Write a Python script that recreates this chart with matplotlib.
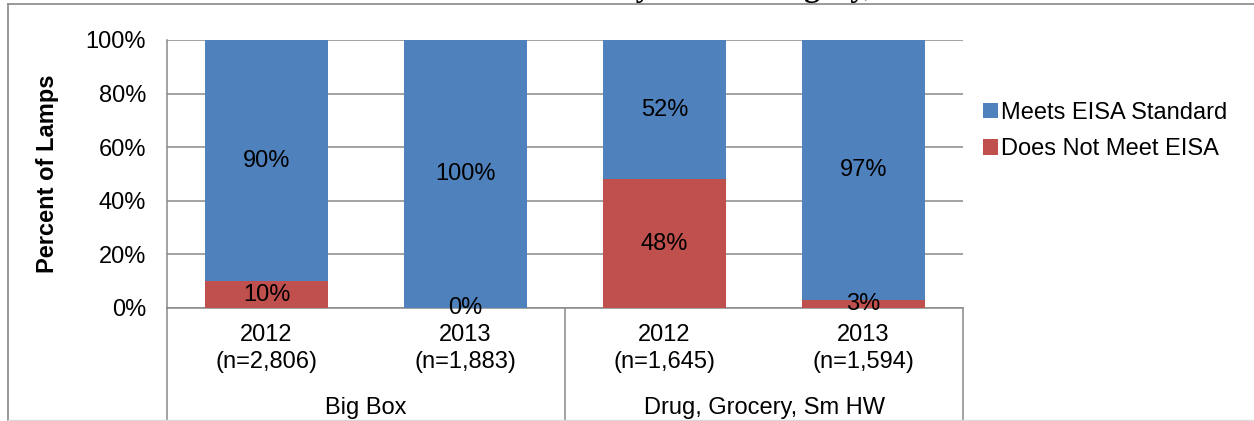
import matplotlib
matplotlib.use("Agg")
import matplotlib.pyplot as plt
from matplotlib.patches import Patch
from matplotlib.lines import Line2D

# ---- data ----
years = ["2012", "2013", "2012", "2013"]
sample_sizes = ["(n=2,806)", "(n=1,883)", "(n=1,645)", "(n=1,594)"]
channels = ["Big Box", "Drug, Grocery, Sm HW"]
meets_eisa = [90, 100, 52, 97]
not_meets_eisa = [10, 0, 48, 3]
series_names = ["Meets EISA Standard", "Does Not Meet EISA"]
y_ticks = [0, 20, 40, 60, 80, 100]

BLUE = "#4F81BD"
RED = "#C0504D"
GRID = "#898989"
FONT = "Liberation Sans"
FS = 17

W, H = 1254, 421
fig = plt.figure(figsize=(W / 100, H / 100), dpi=100)
fig.patch.set_facecolor("white")

def fx(px):
    return px / W

def fy(py):
    return 1 - py / H

# chart frame
fig.add_artist(Line2D([fx(8), fx(8)], [fy(4), fy(420)], color=GRID, lw=1.2))
fig.add_artist(Line2D([fx(8), 1.01], [fy(4), fy(4)], color=GRID, lw=1.2))
fig.add_artist(Line2D([fx(8), 1.01], [fy(420), fy(420)], color="#d9d9d9", lw=1.0))

# caption running off the top edge (only its descenders fall inside)
fig.text(fx(618), 1 + 4 / H, "by Store Category,", family="Liberation Serif",
         weight="bold", fontsize=23, ha="left", va="baseline")

left, right, top, bottom = 167, 963, 40, 308
ax = fig.add_axes([fx(left), fy(bottom), fx(right - left), (bottom - top) / H])

x = list(range(len(years)))
bw = 0.62
ax.bar(x, not_meets_eisa, width=bw, color=RED, zorder=3)
ax.bar(x, meets_eisa, width=bw, bottom=not_meets_eisa, color=BLUE, zorder=3)

for i in x:
    ax.text(i, not_meets_eisa[i] + meets_eisa[i] / 2, f"{meets_eisa[i]}%",
            ha="center", va="center", fontsize=FS, family=FONT, zorder=4)
    ax.text(i, not_meets_eisa[i] / 2, f"{not_meets_eisa[i]}%",
            ha="center", va="center", fontsize=FS, family=FONT, zorder=4)

ax.set_xlim(-0.5, len(years) - 0.5)
ax.set_ylim(0, 100)
ax.set_yticks(y_ticks)
ax.set_yticklabels([f"{t}%" for t in y_ticks], fontsize=FS, family=FONT)
ax.tick_params(axis="y", length=0, pad=15)
ax.set_xticks([])
ax.grid(axis="y", color=GRID, lw=1.1, zorder=0)
for s in ["top", "right"]:
    ax.spines[s].set_visible(False)
for s in ["left", "bottom"]:
    ax.spines[s].set_color(GRID)
    ax.spines[s].set_linewidth(1.1)

ax.set_ylabel("Percent of Lamps", fontsize=FS, family=FONT, weight="bold")
ax.yaxis.set_label_coords((59 - left) / (right - left), 0.5)

# two-level category axis
trans = ax.get_xaxis_transform()
depth = (H - bottom + 2) / (bottom - top)
for xv in [-0.5, 1.5, 3.5]:
    ax.add_line(Line2D([xv, xv], [0, -depth], transform=trans, color=GRID,
                       lw=1.1, clip_on=False))

def ay(py):
    return (bottom - py) / (bottom - top)

for i in x:
    ax.text(i, ay(335), years[i], transform=trans, ha="center", va="center",
            fontsize=FS, family=FONT)
    ax.text(i, ay(362), sample_sizes[i], transform=trans, ha="center",
            va="center", fontsize=FS, family=FONT)
for g, name in enumerate(channels):
    ax.text(2 * g + 0.5, ay(408), name, transform=trans, ha="center",
            va="center", fontsize=FS, family=FONT)

handles = [Patch(facecolor=BLUE), Patch(facecolor=RED)]
leg = fig.legend(handles, series_names, loc="upper left",
                 bbox_to_anchor=(fx(983), fy(102)), frameon=False,
                 prop={"family": FONT, "size": FS}, handlelength=0.62,
                 handleheight=0.62, handletextpad=0.15, labelspacing=0.6,
                 borderaxespad=0, borderpad=0)

fig.savefig("out.png", dpi=100)
